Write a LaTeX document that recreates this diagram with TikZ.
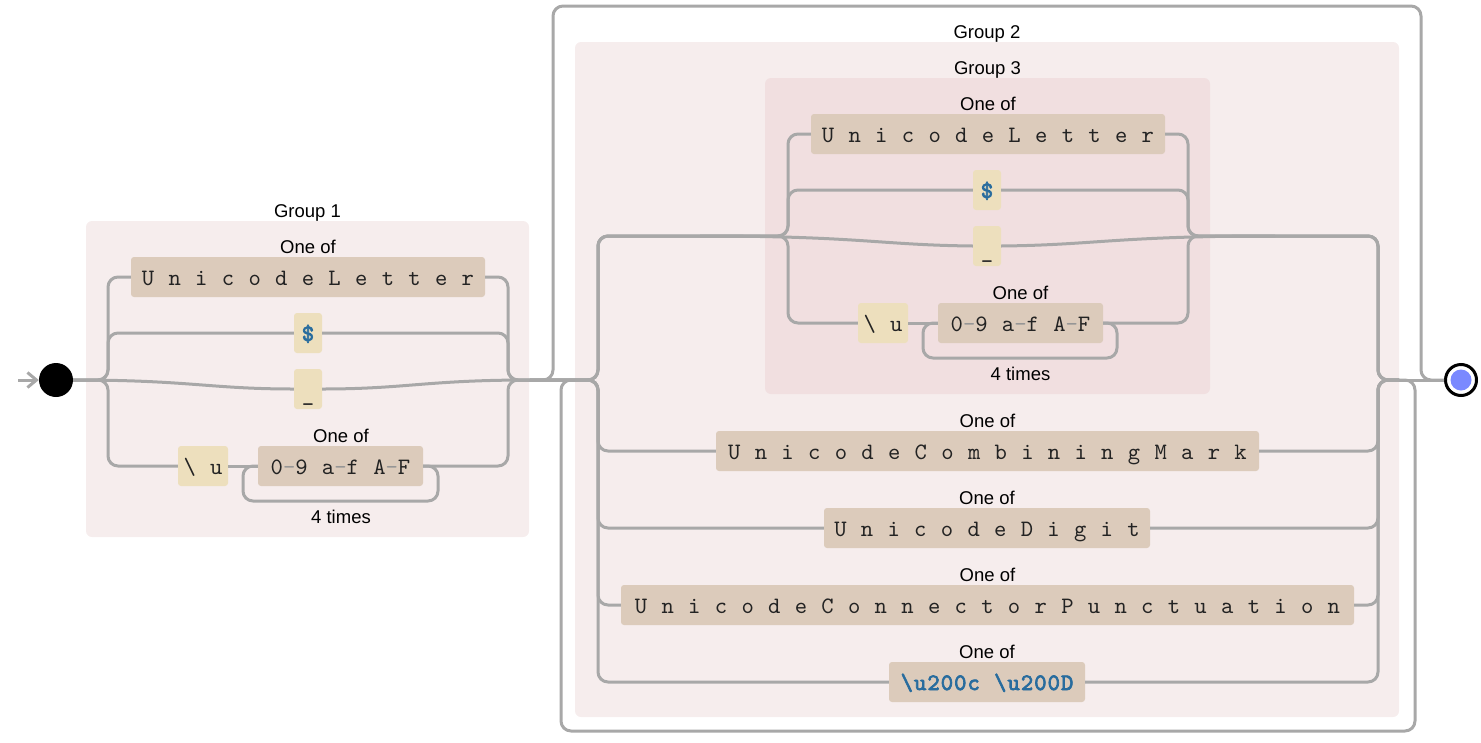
\documentclass[tikz,border=0pt]{standalone}
\usepackage{fontspec}
\setmainfont{Liberation Sans}
\newfontfamily\railmono[LetterSpace=4.4,WordSpace=1.07]{lmmono10-regular.otf}
\newfontfamily\railmonobold[LetterSpace=4.4,WordSpace=1.07,FakeBold=3]{lmmono10-regular.otf}
\usetikzlibrary{arrows.meta}

\definecolor{railgray}{RGB}{168,168,168}
\definecolor{groupfill}{RGB}{246,237,237}
\definecolor{innerfill}{RGB}{241,223,224}
\definecolor{setfill}{RGB}{220,203,187}
\definecolor{litfill}{RGB}{237,223,189}
\definecolor{escblue}{RGB}{40,108,158}
\definecolor{monoink}{RGB}{35,35,35}
\definecolor{dashgray}{RGB}{150,150,150}
\definecolor{endblue}{RGB}{122,137,255}

\newcommand{\rng}[2]{#1{\color{dashgray}-}#2}

\begin{document}
\begin{tikzpicture}[x=1pt,y=-1pt,
  rail/.style={draw=railgray,line width=3pt,rounded corners=10pt},
  groupbox/.style={fill=groupfill,rounded corners=6pt,inner sep=0pt},
  innerbox/.style={fill=innerfill,rounded corners=6pt,inner sep=0pt},
  tok/.style={rounded corners=3pt,minimum height=40pt,inner xsep=0pt,inner ysep=0pt,
    text height=16pt,text depth=0pt,text=monoink,
    font=\railmono\fontsize{23.5}{27}\selectfont},
  setbox/.style={tok,fill=setfill},
  litbox/.style={tok,fill=litfill},
  esc/.style={font=\railmonobold\fontsize{23.5}{27}\selectfont,text=escblue},
  lbl/.style={anchor=base,inner sep=0pt,font=\fontsize{18.5}{22}\selectfont,text=black},
]
\useasboundingbox (0,0) rectangle (1481,742);

% ---- group backgrounds ----
\node[groupbox,minimum width=443pt,minimum height=316pt] (grp1) at (307.5,379) {};
\node[groupbox,minimum width=824pt,minimum height=675pt] (grp2) at (987,379.5) {};
\node[innerbox,minimum width=445pt,minimum height=316pt] (grp3) at (987.5,236) {};

\node[lbl] (grp1label) at (307.5,217) {Group 1};
\node[lbl] (grp2label) at (987,38) {Group 2};
\node[lbl] (grp3label) at (987.5,74) {Group 3};

% ---- terminals ----
\node[circle,fill=black,minimum size=34pt,inner sep=0pt] (start) at (56,380) {};
\node[circle,draw=black,line width=3pt,fill=white,minimum size=31pt,inner sep=0pt] (finish) at (1461,380) {};
\node[circle,fill=endblue,minimum size=21pt,inner sep=0pt] (finishdot) at (finish.center) {};
\coordinate (entry) at (18,380);

% ---- group 1 tokens ----
\node[setbox,minimum width=354pt] (ul1) at (308,277) {U n i c o d e L e t t e r};
\node[lbl] (of1a) at (308,253) {One of};
\node[litbox,esc,minimum width=28pt] (dol1) at (308,333) {\$};
\node[litbox,minimum width=28pt] (und1) at (308,389) {\raisebox{-4pt}{\_}};
\node[litbox,minimum width=50pt] (bu1) at (203,466) {\textbackslash{} u};
\node[setbox,minimum width=165pt] (hex1) at (340.5,466) {\rng09 \rng af \rng AF};
\node[lbl] (of1b) at (341,442) {One of};
\node[lbl] (times1) at (341,523) {4 times};

% ---- group 3 tokens ----
\node[setbox,minimum width=354pt] (ul3) at (988,134) {U n i c o d e L e t t e r};
\node[lbl] (of3a) at (988,110) {One of};
\node[litbox,esc,minimum width=28pt] (dol3) at (987,190) {\$};
\node[litbox,minimum width=28pt] (und3) at (987,246) {\raisebox{-4pt}{\_}};
\node[litbox,minimum width=50pt] (bu3) at (883,323) {\textbackslash{} u};
\node[setbox,minimum width=165pt] (hex3) at (1020.5,323) {\rng09 \rng af \rng AF};
\node[lbl] (of3b) at (1020.5,299) {One of};
\node[lbl] (times3) at (1020.5,380) {4 times};

% ---- group 2 tokens ----
\node[setbox,minimum width=543pt] (cm) at (987.5,451) {U n i c o d e C o m b i n i n g M a r k};
\node[lbl] (ofcm) at (987.5,427) {One of};
\node[setbox,minimum width=326pt] (dg) at (987,528) {U n i c o d e D i g i t};
\node[lbl] (ofdg) at (987,504) {One of};
\node[setbox,minimum width=733pt] (cp) at (987.5,605) {U n i c o d e C o n n e c t o r P u n c t u a t i o n};
\node[lbl] (ofcp) at (987.5,581) {One of};
\node[setbox,esc,minimum width=196pt] (zw) at (987,682) {\textbackslash u200c \textbackslash u200D};
\node[lbl] (ofzw) at (987,658) {One of};

% ---- junction points ----
\coordinate (g1L) at (108,380);
\coordinate (g1R) at (508,380);
\coordinate (g1out) at (530,380);
\coordinate (skipL) at (553,380);
\coordinate (skipTL) at (553,6);
\coordinate (skipTR) at (1421,6);
\coordinate (skipR) at (1421,380);
\coordinate (loopL) at (561,380);
\coordinate (loopBL) at (561,731);
\coordinate (loopBR) at (1415,731);
\coordinate (loopR) at (1415,380);
\coordinate (g2in) at (575,380);
\coordinate (g2L) at (598,380);
\coordinate (g2R) at (1378,380);
\coordinate (g2out) at (1399,380);
\coordinate (g2Ltop) at (598,236);
\coordinate (g2Rtop) at (1378,236);
\coordinate (g3L) at (788,236);
\coordinate (g3R) at (1188,236);
\coordinate (g3Lpre) at (700,236);
\coordinate (g3Rpost) at (1275,236);
\coordinate (lp1L) at (243,501);
\coordinate (lp1R) at (438,501);
\coordinate (lp3L) at (923,358);
\coordinate (lp3R) at (1117,358);

% ---- entry ----
\draw[rail,-{Straight Barb[length=9pt,width=15pt]}] (entry) -- (start.west);

% ---- group 1 alternation ----
\draw[rail] (start.east) -- (g1L) |- (ul1.west);
\draw[rail] (start.east) -- (g1L) |- (dol1.west);
\draw[rail] (start.east) -- (g1L) |- (bu1.west);
\draw[rail] (start.east) .. controls (190,380) and (210,389) .. (und1.west);
\draw[rail] (ul1.east) -| (g1R) -- (g1out);
\draw[rail] (dol1.east) -| (g1R) -- (g1out);
\draw[rail] (hex1.east) -| (g1R) -- (g1out);
\draw[rail] (und1.east) .. controls (406,389) and (426,380) .. (g1out);
\draw[rail] (bu1.east) -- (hex1.west);
\draw[rail] (hex1.east) -| (lp1R) -- (lp1L) |- (hex1.west);

% ---- skip over group 2 ----
\draw[rail] (g1out) -- (skipL) -- (skipTL) -- (skipTR) -- (skipR) -- (finish.west);

% ---- group 2: branch through group 3 ----
\draw[rail] (g1out) -- (g2L) -- (g2Ltop) -- (g3L) |- (ul3.west);
\draw[rail] (g1out) -- (g2L) -- (g2Ltop) -- (g3L) |- (dol3.west);
\draw[rail] (g1out) -- (g2L) -- (g2Ltop) -- (g3L) |- (bu3.west);
\draw[rail] (g3Lpre) .. controls (860,236) and (880,245) .. (und3.west);
\draw[rail] (ul3.east) -| (g3R) -- (g2Rtop) -- (g2R) -- (g2out);
\draw[rail] (dol3.east) -| (g3R) -- (g2Rtop) -- (g2R) -- (g2out);
\draw[rail] (hex3.east) -| (g3R) -- (g2Rtop) -- (g2R) -- (g2out);
\draw[rail] (und3.east) .. controls (1096,245) and (1116,236) .. (g3Rpost);
\draw[rail] (bu3.east) -- (hex3.west);
\draw[rail] (hex3.east) -| (lp3R) -- (lp3L) |- (hex3.west);

% ---- group 2: lower branches ----
\draw[rail] (g1out) -- (g2L) |- (cm.west);
\draw[rail] (g1out) -- (g2L) |- (dg.west);
\draw[rail] (g1out) -- (g2L) |- (cp.west);
\draw[rail] (g1out) -- (g2L) |- (zw.west);
\draw[rail] (cm.east) -| (g2R) -- (g2out);
\draw[rail] (dg.east) -| (g2R) -- (g2out);
\draw[rail] (cp.east) -| (g2R) -- (g2out);
\draw[rail] (zw.east) -| (g2R) -- (g2out);

% ---- repeat loop and exit ----
\draw[rail] (g2out) -- (loopR) -- (loopBR) -- (loopBL) -- (loopL) -- (g2in);
\draw[rail] (g2out) -- (finish.west);
\end{tikzpicture}
\end{document}
